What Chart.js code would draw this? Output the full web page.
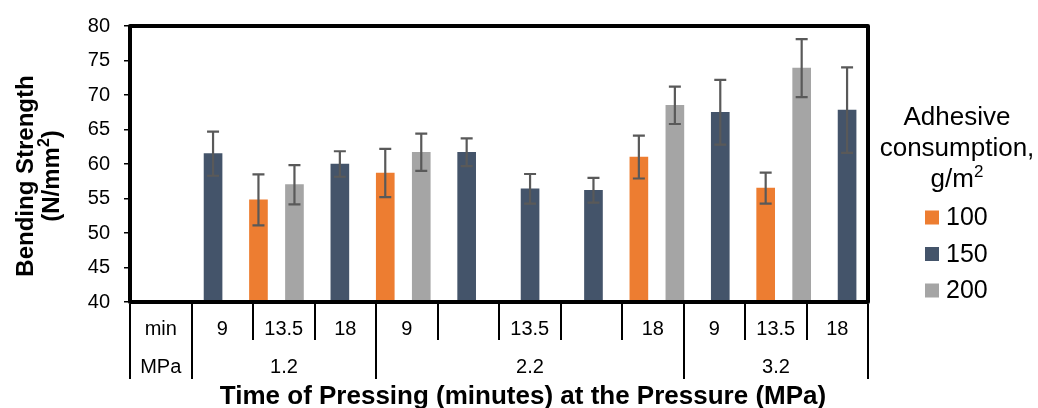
<!DOCTYPE html>
<html>
<head>
    <meta charset="UTF-8">
    <title>Bending Strength</title>
    <script src="https://cdn.jsdelivr.net/npm/chart.js"></script>
    <style>
        body { margin: 0; background: #fff; }
        #wrap { width: 1038px; height: 408px; }
    </style>
</head>
<body>
    <div id="wrap"><canvas id="myChart"></canvas></div>

    <script>
        // table under the chart: pressing time per column (first column is the row caption)
        const timeLabels = ['min', '9', '13.5', '18', '9', '', '13.5', '', '18', '9', '13.5', '18'];
        // pressure groups and how many time columns each one covers
        const pressureLabels = ['1.2', '2.2', '3.2'];
        const pressureSpans = [3, 5, 3];

        // adhesive consumption, g/m2
        const seriesNames = ['100', '150', '200'];
        const seriesColors = ['#ED7D31', '#44546A', '#A5A5A5'];

        // bending strength (N/mm2), one value per time column
        const strength100 = [null, 54.8, null, 58.7, null, null, null, 61.0, null, 56.5, null];
        const strength150 = [61.5, null, 60.0, null, 61.7, 56.4, 56.2, null, 67.5, null, 67.8];
        const strength200 = [null, 57.0, null, 61.7, null, null, null, 68.5, null, 73.9, null];

        // error bars (+/-)
        const error100 = [null, 3.7, null, 3.5, null, null, null, 3.1, null, 2.25, null];
        const error150 = [3.2, null, 1.85, null, 2.0, 2.15, 1.8, null, 4.7, null, 6.2];
        const error200 = [null, 2.85, null, 2.7, null, null, null, 2.7, null, 4.2, null];

        const FONT = '"Liberation Sans", Arial, sans-serif';
        Chart.defaults.font.family = FONT;
        Chart.defaults.color = '#000';

        // column 0 holds the "min" caption, so bars start at 1
        function toPoints(values) {
            return values.map((v, i) => ({ x: i + 1, y: v }));
        }

        // centred text with a raised, smaller "2" at the end before an optional tail
        function textWithSquare(ctx, head, tail, x, y, size, weight) {
            const big = weight + ' ' + size + 'px ' + FONT;
            const small = weight + ' ' + Math.round(size * 0.65) + 'px ' + FONT;
            ctx.font = big;
            const w1 = ctx.measureText(head).width;
            const w3 = ctx.measureText(tail).width;
            ctx.font = small;
            const w2 = ctx.measureText('2').width;
            let left = x - (w1 + w2 + w3) / 2;
            ctx.save();
            ctx.textAlign = 'left';
            ctx.font = big;
            ctx.fillText(head, left, y);
            ctx.font = small;
            ctx.fillText('2', left + w1, y - size * 0.38);
            ctx.font = big;
            ctx.fillText(tail, left + w1 + w2, y);
            ctx.restore();
        }

        // error bars, frame, table, titles and legend
        const decor = {
            id: 'decor',
            afterDatasetsDraw(chart) {
                const ctx = chart.ctx;
                const yScale = chart.scales.y;
                ctx.save();
                ctx.strokeStyle = '#595959';
                ctx.lineWidth = 2.2;
                chart.data.datasets.forEach((ds, di) => {
                    chart.getDatasetMeta(di).data.forEach((bar, i) => {
                        const v = ds.data[i].y;
                        const e = ds.errors[i];
                        if (v === null || e === null) return;
                        const top = yScale.getPixelForValue(v + e);
                        const bottom = yScale.getPixelForValue(v - e);
                        ctx.beginPath();
                        ctx.moveTo(bar.x, top);
                        ctx.lineTo(bar.x, bottom);
                        ctx.moveTo(bar.x - 6, top);
                        ctx.lineTo(bar.x + 6, top);
                        ctx.moveTo(bar.x - 6, bottom);
                        ctx.lineTo(bar.x + 6, bottom);
                        ctx.stroke();
                    });
                });
                ctx.restore();

                // thick frame round the plot
                const a = chart.chartArea;
                ctx.save();
                ctx.strokeStyle = '#000';
                ctx.lineWidth = 4;
                ctx.lineJoin = 'round';
                ctx.strokeRect(a.left, a.top, a.right - a.left, a.bottom - a.top);
                ctx.restore();
            },
            afterDraw(chart) {
                const ctx = chart.ctx;
                const t = chart.scales.table;
                const base = chart.chartArea.bottom;
                const colW = t.getPixelForValue(1) - t.getPixelForValue(0);
                const edge = i => Math.round(t.getPixelForValue(i) - colW / 2);

                ctx.save();
                ctx.fillStyle = '#000';
                ctx.strokeStyle = '#000';
                ctx.lineWidth = 2;

                // time row
                ctx.font = '20px ' + FONT;
                ctx.textAlign = 'center';
                ctx.textBaseline = 'alphabetic';
                timeLabels.forEach((lab, i) => ctx.fillText(lab, t.getPixelForValue(i), base + 33));
                ctx.beginPath();
                for (let i = 0; i <= timeLabels.length; i++) {
                    ctx.moveTo(edge(i), base + 2);
                    ctx.lineTo(edge(i), base + 38);
                }
                ctx.stroke();

                // pressure row
                ctx.fillText('MPa', t.getPixelForValue(0), base + 71);
                let col = 1;
                const cuts = [0, 1];
                pressureLabels.forEach((lab, k) => {
                    const end = col + pressureSpans[k];
                    ctx.fillText(lab, (edge(col) + edge(end)) / 2, base + 71);
                    cuts.push(end);
                    col = end;
                });
                ctx.beginPath();
                cuts.forEach(c => {
                    ctx.moveTo(edge(c), base + 2);
                    ctx.lineTo(edge(c), base + 77);
                });
                ctx.stroke();

                // x title
                ctx.font = 'bold 26px ' + FONT;
                ctx.fillText('Time of Pressing (minutes) at the Pressure (MPa)', 523, 404);

                // y title
                ctx.save();
                ctx.font = 'bold 24px ' + FONT;
                ctx.translate(33, 176);
                ctx.rotate(-Math.PI / 2);
                ctx.fillText('Bending Strength', 0, 0);
                textWithSquare(ctx, '(N/mm', ')', 0, 25.5, 24, 'bold');
                ctx.restore();

                // legend
                ctx.font = '26px ' + FONT;
                ctx.fillText('Adhesive', 957, 125);
                ctx.fillText('consumption,', 957, 156);
                textWithSquare(ctx, 'g/m', '', 957, 187, 26, 'normal');
                ctx.font = '25px ' + FONT;
                ctx.textAlign = 'left';
                ctx.textBaseline = 'middle';
                chart.data.datasets.forEach((ds, i) => {
                    const cy = 217.5 + i * 36.5;
                    ctx.fillStyle = ds.backgroundColor;
                    ctx.fillRect(925, cy - 7, 14, 14);
                    ctx.fillStyle = '#000';
                    ctx.fillText(ds.label, 946, cy + 1);
                });
                ctx.restore();
            }
        };

        const ctx = document.getElementById('myChart').getContext('2d');
        const myChart = new Chart(ctx, {
            type: 'bar',
            data: {
                datasets: [
                    { label: seriesNames[0], data: toPoints(strength100), errors: error100, backgroundColor: seriesColors[0] },
                    { label: seriesNames[1], data: toPoints(strength150), errors: error150, backgroundColor: seriesColors[1] },
                    { label: seriesNames[2], data: toPoints(strength200), errors: error200, backgroundColor: seriesColors[2] }
                ]
            },
            options: {
                responsive: true,
                maintainAspectRatio: false,
                animation: false,
                barThickness: 18,
                layout: { padding: { left: 0, top: 20, right: 170, bottom: 106 } },
                plugins: {
                    legend: { display: false },
                    tooltip: { enabled: false }
                },
                scales: {
                    x: {
                        type: 'linear',
                        min: -0.31,
                        max: 11.33,
                        bounds: 'data',
                        offset: false,
                        display: false
                    },
                    table: {
                        type: 'category',
                        axis: 'x',
                        position: 'bottom',
                        labels: timeLabels,
                        offset: true,
                        display: false
                    },
                    y: {
                        min: 40,
                        max: 80,
                        ticks: { stepSize: 5, padding: 14, font: { size: 20 } },
                        grid: { drawOnChartArea: false, drawTicks: true, tickLength: 6, color: '#000', lineWidth: 1.5 },
                        border: { display: false },
                        afterFit(scale) { scale.width = 130; }
                    }
                }
            },
            plugins: [decor]
        });
    </script>
</body>
</html>
